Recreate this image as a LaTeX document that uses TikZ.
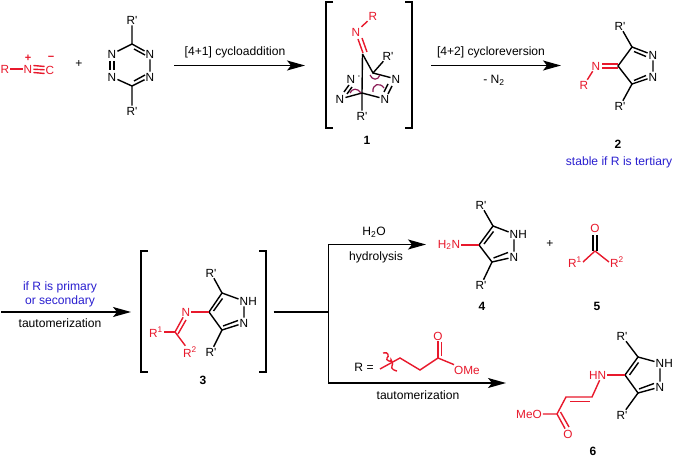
\documentclass[tikz,border=0pt]{standalone}
\usepackage{fontspec}
\newfontfamily\lsans{Liberation Sans}
\usetikzlibrary{calc,arrows.meta}
\definecolor{chemred}{HTML}{E8192C}
\definecolor{chemblue}{HTML}{2A1FD0}
\definecolor{chempurple}{HTML}{8A1A55}
\tikzset{
  atom/.style={font=\lsans\fontsize{11.8}{13}\selectfont,inner sep=1pt,text=black},
  ratom/.style={atom,text=chemred},
  txt/.style={font=\lsans\fontsize{12.1}{14}\selectfont,inner sep=0pt,text=black},
  bluetxt/.style={txt,text=chemblue},
  num/.style={font=\lsans\bfseries\fontsize{12}{14}\selectfont,inner sep=0pt,text=black},
  bond/.style={line width=1.4pt,black},
  rbond/.style={line width=1.4pt,chemred},
  rxn/.style={line width=1.4pt,black,-{Stealth[length=18pt,width=10pt,inset=4pt]}},
  plain/.style={line width=1.4pt,black},
  bracket/.style={line width=1.4pt,black},
  arcp/.style={line width=1.2pt,chempurple}
}
\begin{document}
\begin{tikzpicture}[x=1pt,y=-1pt]
\useasboundingbox (0,0) rectangle (675,457);
\fill[white] (0,0) rectangle (675,457);

%% isocyanide
\node[ratom] (iR) at (5,69) {R};
\node[ratom] (iN) at (28,69) {N};
\node[ratom] (iC) at (50,70) {C};
\node[ratom,font=\lsans\bfseries\fontsize{11}{11}\selectfont] (iP) at (28,58) {+};
\node[ratom,font=\lsans\bfseries\fontsize{11}{11}\selectfont] (iM) at (51,58) {\char"2212};
\draw[rbond] (iR) -- (iN);
\draw[rbond] (iN) -- (iC);
\draw[rbond] ($(iN.east)+(0,-3.5)$) -- ($(iC.west)+(0,-3.5)$);
\draw[rbond] ($(iN.east)+(0,3.5)$) -- ($(iC.west)+(0,3.5)$);
\node[txt] (plusA) at (79,64) {+};

%% tetrazine
\coordinate (tC1) at (132,44);
\coordinate (tC2) at (132,86);
\node[atom] (tA) at (132,20) {R'};
\node[atom] (tB) at (132,111) {R'};
\node[atom] (tN1) at (150,54) {N};
\node[atom] (tN2) at (150,77) {N};
\node[atom] (tN3) at (112,77) {N};
\node[atom] (tN4) at (112,54) {N};
\draw[bond] (tA) -- (tC1) -- (tN1) (tN1) -- (tN2) (tN2) -- (tC2) -- (tB);
\draw[bond] (tC2) -- (tN3) (tN4) -- (tC1);
\draw[bond] (110,61) -- (110,70) (114,61) -- (114,70);
\draw[bond] (134,49) -- (145,55) (134,81) -- (145,75);

%% arrow 1
\coordinate (a1s) at (174,65.5); \coordinate (a1e) at (305,65.5);
\draw[rxn] (a1s) -- (a1e);
\node[txt] (a1l) at (235,52) {[4+1] cycloaddition};

%% bracket 1
\draw[bracket] (333,2) -- (326,2) -- (326,128) -- (333,128);
\draw[bracket] (405,2) -- (412,2) -- (412,128) -- (405,128);

%% compound 1
\node[ratom] (cR) at (373,16) {R};
\node[ratom] (cN) at (356,32) {N};
\coordinate (cCt) at (362.5,54);
\coordinate (cCr) at (373,73);
\coordinate (cCl) at (362,93);
\node[atom] (cRa) at (388,56) {R'};
\node[atom] (cRb) at (362,116) {R'};
\node[atom] (cN1) at (396,79) {N};
\node[atom] (cN2) at (385,99) {N};
\node[atom] (cN3) at (351,79) {N};
\node[atom] (cN4) at (340,99) {N};
\node[atom,inner sep=0pt] (cDot) at (359,77) {$\cdot$};
\draw[rbond] (cN) -- (cR);
\draw[rbond] (358,39) -- (363,53) (362,38) -- (367,52);
\draw[bond] (cCt) -- (cCl) -- (cRb);
\draw[bond] (cCt) -- (cCr) -- (cRa);
\draw[bond] (cCr) -- (cN1);
\draw[bond] (cCl) -- (cN2);
\draw[bond] (cCl) -- (cN4);
\draw[bond] (388,84) -- (384,92) (392,86) -- (388,94);
\draw[bond] (344,92) -- (349,85) (347,94) -- (352,87);
\draw[arcp] (370,75) .. controls (372,80) and (378,81) .. (380,75);
\draw[arcp] (373,92) .. controls (372,84) and (380,82) .. (384,88);
\draw[arcp] (350,93) .. controls (352,88) and (358,88) .. (361,93);
\node[num] (n1) at (367,140) {1};

%% arrow 2
\coordinate (a2s) at (431,65.5); \coordinate (a2e) at (561,65.5);
\draw[rxn] (a2s) -- (a2e);
\node[txt] (a2l) at (491,52) {[4+2] cycloreversion};
\node[txt] (a2m) at (494,80) {- N\textsubscript{2}};

%% compound 2
\coordinate (pC3) at (632,47);
\coordinate (pC4) at (618,66);
\coordinate (pC5) at (632,84);
\node[atom] (pA) at (620,26) {R'};
\node[atom] (pB) at (620,106) {R'};
\node[atom] (pN1) at (653,55) {N};
\node[atom] (pN2) at (653,77) {N};
\node[ratom] (pN) at (596,66) {N};
\node[ratom] (pR) at (584,85) {R};
\draw[bond] (pA) -- (pC3) -- (pC4) -- (pC5) -- (pB);
\draw[bond] (pC3) -- (pN1) (pN1) -- (pN2) (pN2) -- (pC5);
\draw[bond] (634,51.5) -- (646,56.5) (634,80.5) -- (646,75.5);
\draw[rbond] (pN) -- (pR);
\draw[rbond] (602,64.2) -- (618,64.2) (602,68.2) -- (618,68.2);
\node[num] (n2) at (618,144) {2};
\node[bluetxt] (n2s) at (619,162) {stable if R is tertiary};

%% arrow 3
\coordinate (a3s) at (1,312); \coordinate (a3e) at (131,312);
\draw[rxn] (a3s) -- (a3e);
\node[bluetxt] (a3a) at (60,287) {if R is primary};
\node[bluetxt] (a3b) at (60,301) {or secondary};
\node[txt] (a3c) at (60,323.5) {tautomerization};

%% bracket 3
\draw[bracket] (148,251) -- (141,251) -- (141,372) -- (148,372);
\draw[bracket] (259,251) -- (266,251) -- (266,372) -- (259,372);

%% compound 3
\coordinate (qC5) at (222,293);
\coordinate (qC4) at (209,312);
\coordinate (qC3) at (222,330);
\coordinate (qC) at (175,332);
\node[atom] (qA) at (211,273) {R'};
\node[atom] (qB) at (211,352) {R'};
\node[atom] (qNH) at (244,301) {N};
\node[atom] (qH) at (252.7,301) {H};
\node[atom] (qN2) at (244,323) {N};
\node[ratom] (qN) at (186,312) {N};
\node[ratom] (qR1) at (156,332) {R\textsuperscript{1}};
\node[ratom] (qR2) at (190,352) {R\textsuperscript{2}};
\draw[bond] (qA) -- (qC5) -- (qC4) -- (qC3) -- (qB);
\draw[bond] (qC5) -- (qNH) (qNH) -- (qN2) (qN2) -- (qC3);
\draw[bond] (223,326) -- (238,320.5);
\draw[bond] (222.5,298.5) -- (213.5,311);
\draw[rbond] (qN) -- (qC4);
\draw[rbond] (qC) -- (qR1.east);
\draw[rbond] (qC) -- (qR2);
\draw[rbond] (qN) -- (qC);
\draw[rbond] (186,320) -- (178,334);
\node[num] (n3) at (203,380) {3};

%% fork
\coordinate (f0) at (273.5,312);
\coordinate (f1) at (328.5,312);
\coordinate (f2) at (328.5,244.5);
\coordinate (f3) at (328.5,383);
\coordinate (f2e) at (426,244.5);
\coordinate (f3e) at (506,383);
\draw[plain] (f0) -- (f1);
\draw[rxn] (f1) -- (f2) -- (f2e);
\draw[rxn] (f1) -- (f3) -- (f3e);
\node[txt] (fa) at (374,232) {H\textsubscript{2}O};
\node[txt] (fb) at (376,257) {hydrolysis};
\node[txt] (fc) at (418,395) {tautomerization};

%% R = fragment
\node[txt] (fR) at (364,367) {R =};
\coordinate (sA) at (380,369);
\coordinate (sB) at (400,358);
\coordinate (sC) at (420,370);
\coordinate (sD) at (438,358);
\node[ratom] (sO) at (438,336) {O};
\node[ratom] (sE) at (467,370) {OMe};
\draw[rbond] (sA) -- (sB) -- (sC) -- (sD) -- (sE);
\draw[rbond] (sD) -- (sO);
\draw[rbond] (441.5,356) -- (441.5,342);
\draw[rbond] (383,353) .. controls (389,351) and (389,357) .. (387,358)
  .. controls (385,360) and (392,363) .. (391,360)
  .. controls (390,358) and (394,364) .. (392,366)
  .. controls (390,369) and (396,371) .. (397,371);

%% compound 4
\coordinate (dC5) at (493,226);
\coordinate (dC4) at (479,245);
\coordinate (dC3) at (492,262);
\node[atom] (dA) at (481,205) {R'};
\node[atom] (dB) at (481,285) {R'};
\node[atom] (dNH) at (514,234) {N};
\node[atom] (dH) at (522.7,234) {H};
\node[atom] (dN2) at (514,257) {N};
\node[ratom] (dN) at (449,245) {H\textsubscript{2}N};
\draw[bond] (dA) -- (dC5) -- (dC4) -- (dC3) -- (dB);
\draw[bond] (dC5) -- (dNH) (dNH) -- (dN2) (dN2) -- (dC3);
\draw[bond] (493.5,258) -- (508,252.5);
\draw[bond] (493.5,231.5) -- (484,244);
\draw[rbond] (dN) -- (dC4);
\node[num] (n4) at (482,306) {4};
\node[txt] (plusB) at (550,244) {+};

%% compound 5
\coordinate (kC) at (595,251);
\node[ratom] (kO) at (595,228) {O};
\node[ratom] (kR1) at (575,262) {R\textsuperscript{1}};
\node[ratom] (kR2) at (617,262) {R\textsuperscript{2}};
\draw[rbond] (kC) -- (kR1.east) (kC) -- (kR2.west);
\draw[bond] (593,251) -- (593,235) (597,251) -- (597,235);
\node[num] (n5) at (597,306) {5};

%% compound 6
\coordinate (eC5) at (638,357);
\coordinate (eC4) at (625,375);
\coordinate (eC3) at (638,393);
\coordinate (eV1) at (592,397);
\coordinate (eV2) at (566,397);
\coordinate (eC) at (557,414);
\node[atom] (eA) at (622,336) {R'};
\node[atom] (eB) at (622,415) {R'};
\node[atom] (eNH) at (660,363) {N};
\node[atom] (eH) at (668.7,363) {H};
\node[atom] (eN2) at (660,387) {N};
\node[ratom] (eN) at (602,375) {N};
\node[ratom] (eHr) at (593.3,375) {H};
\node[ratom] (eO) at (568,434) {O};
\node[ratom] (eMe) at (529,414) {MeO};
\draw[bond] (eA) -- (eC5) -- (eC4) -- (eC3) -- (eB);
\draw[bond] (eC5) -- (eNH) (eNH) -- (eN2) (eN2) -- (eC3);
\draw[bond] (639,389) -- (654,383.5);
\draw[bond] (638.5,362.5) -- (629.5,375);
\draw[rbond] (eN) -- (eC4);
\draw[rbond] (eN) -- (eV1) -- (eV2) -- (eC) -- (eMe);
\draw[rbond] (570,401.5) -- (590,401.5);
\draw[rbond] (eC) -- (eO);
\draw[rbond] (560.5,412) -- (569,427);
\node[num] (n6) at (593,451) {6};
\end{tikzpicture}
\end{document}
